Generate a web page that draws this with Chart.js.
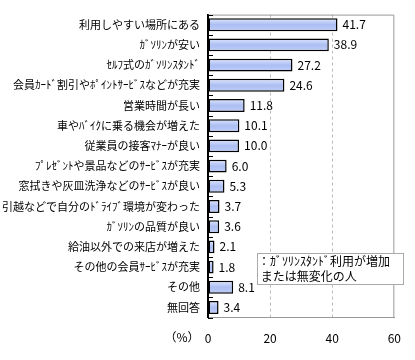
<!DOCTYPE html>
<html><head><meta charset="utf-8">
<script src="https://cdn.jsdelivr.net/npm/chart.js@4/dist/chart.umd.min.js"></script>
<style>html,body{margin:0;padding:0;background:#fff}#wrap{width:415px;height:360px}</style>
</head><body><div id="wrap"><canvas id="c" width="415" height="360"></canvas></div>
<script>
const categories = [
  "利用しやすい場所にある",
  "ｶﾞｿﾘﾝが安い",
  "ｾﾙﾌ式のｶﾞｿﾘﾝｽﾀﾝﾄﾞ",
  "会員ｶｰﾄﾞ割引やﾎﾟｲﾝﾄｻｰﾋﾞｽなどが充実",
  "営業時間が長い",
  "車やﾊﾞｲｸに乗る機会が増えた",
  "従業員の接客ﾏﾅｰが良い",
  "ﾌﾟﾚｾﾞﾝﾄや景品などのｻｰﾋﾞｽが充実",
  "窓拭きや灰皿洗浄などのｻｰﾋﾞｽが良い",
  "引越などで自分のﾄﾞﾗｲﾌﾞ環境が変わった",
  "ｶﾞｿﾘﾝの品質が良い",
  "給油以外での来店が増えた",
  "その他の会員ｻｰﾋﾞｽが充実",
  "その他",
  "無回答"
];
const values = [41.7, 38.9, 27.2, 24.6, 11.8, 10.1, 10.0, 6.0, 5.3, 3.7, 3.6, 2.1, 1.8, 8.1, 3.4];
const xTicks = [0, 20, 40, 60];
const seriesName = ["：ｶﾞｿﾘﾝｽﾀﾝﾄﾞ利用が増加", " または無変化の人"];
const unitLabel = "（%）";

const FONT = '"Noto Sans CJK JP", "Noto Sans", sans-serif';
const BAR_PCT = 0.64;

function makeGrad(ctx, top, bot) {
  const g = ctx.createLinearGradient(0, top, 0, bot);
  g.addColorStop(0, '#dfe7ff');
  g.addColorStop(0.5, '#acbef2');
  g.addColorStop(1, '#bfcdf9');
  return g;
}

const decor = {
  id: 'decor',
  beforeDatasetDraw(chart, args) {
    const ctx = chart.ctx;
    args.meta.data.forEach(el => {
      const top = el.y - el.height / 2, bot = el.y + el.height / 2;
      if (!isFinite(top) || !isFinite(bot)) return;
      el.options = Object.assign({}, el.options, { backgroundColor: makeGrad(ctx, top, bot) });
    });
  },
  afterDatasetsDraw(chart) {
    const ctx = chart.ctx;
    const a = chart.chartArea;
    const y = chart.scales.y;
    ctx.save();
    ctx.strokeStyle = '#999';
    ctx.lineWidth = 1;
    ctx.beginPath();
    ctx.moveTo(a.left, a.top + 0.5);
    ctx.lineTo(a.right - 0.5, a.top + 0.5);
    ctx.lineTo(a.right - 0.5, a.bottom);
    ctx.stroke();
    ctx.strokeStyle = '#000';
    const n = categories.length;
    const step = (y.getPixelForValue(1) - y.getPixelForValue(0));
    for (let i = 0; i <= n; i++) {
      const py = Math.round(y.getPixelForValue(i) - step / 2) + 0.5;
      ctx.beginPath();
      ctx.moveTo(a.left, py);
      ctx.lineTo(a.left + 5, py);
      ctx.stroke();
    }
    const meta = chart.getDatasetMeta(0);
    ctx.fillStyle = '#000';
    ctx.font = '12px ' + FONT;
    ctx.textBaseline = 'middle';
    ctx.textAlign = 'left';
    meta.data.forEach((el, i) => {
      ctx.fillText(values[i].toFixed(1), el.x + 5, el.y);
    });
    ctx.textAlign = 'center';
    ctx.textBaseline = 'top';
    ctx.fillText(unitLabel, 182, a.bottom + 14);
    const lx = 257, ly = 253, lw = 146, lh = 31;
    ctx.fillStyle = '#fff';
    ctx.fillRect(lx, ly, lw, lh);
    ctx.strokeStyle = '#aaa';
    ctx.strokeRect(lx + 0.5, ly + 0.5, lw, lh);
    ctx.fillStyle = '#000';
    ctx.textAlign = 'left';
    ctx.textBaseline = 'middle';
    ctx.font = '12px ' + FONT;
    ctx.fillText(seriesName[0], lx + 1, ly + 8);
    ctx.fillText(seriesName[1], lx + 1, ly + 23);
    ctx.restore();
  }
};

new Chart(document.getElementById('c'), {
  type: 'bar',
  data: {
    labels: categories,
    datasets: [{
      data: values,
      backgroundColor: '#acbef2',
      borderColor: '#000',
      borderWidth: 1.5,
      borderSkipped: false,
      barPercentage: BAR_PCT,
      categoryPercentage: 1
    }]
  },
  options: {
    indexAxis: 'y',
    responsive: false,
    animation: false,
    devicePixelRatio: 1,
    layout: { padding: { top: 5, right: 10, bottom: 0, left: 0 } },
    plugins: { legend: { display: false }, tooltip: { enabled: false } },
    scales: {
      x: {
        min: 0, max: 60,
        afterBuildTicks(scale) { scale.ticks = xTicks.map(v => ({ value: v })); },
        grid: {
          drawTicks: false,
          color: ctx => (ctx.tick && (ctx.tick.value === 20 || ctx.tick.value === 40)) ? '#bbb' : 'rgba(0,0,0,0)',
          lineWidth: 1
        },
        border: { color: '#999', width: 1, dash: [3, 3] },
        ticks: { color: '#000', font: { family: FONT, size: 12 }, padding: 14, maxRotation: 0 }
      },
      y: {
        afterFit(scale) { scale.width = 208; },
        grid: { display: false, drawTicks: false },
        border: { color: '#000', width: 2 },
        ticks: { color: '#000', font: { family: FONT, size: 11 }, padding: 8, autoSkip: false }
      }
    }
  },
  plugins: [decor]
});
</script>
</body></html>
